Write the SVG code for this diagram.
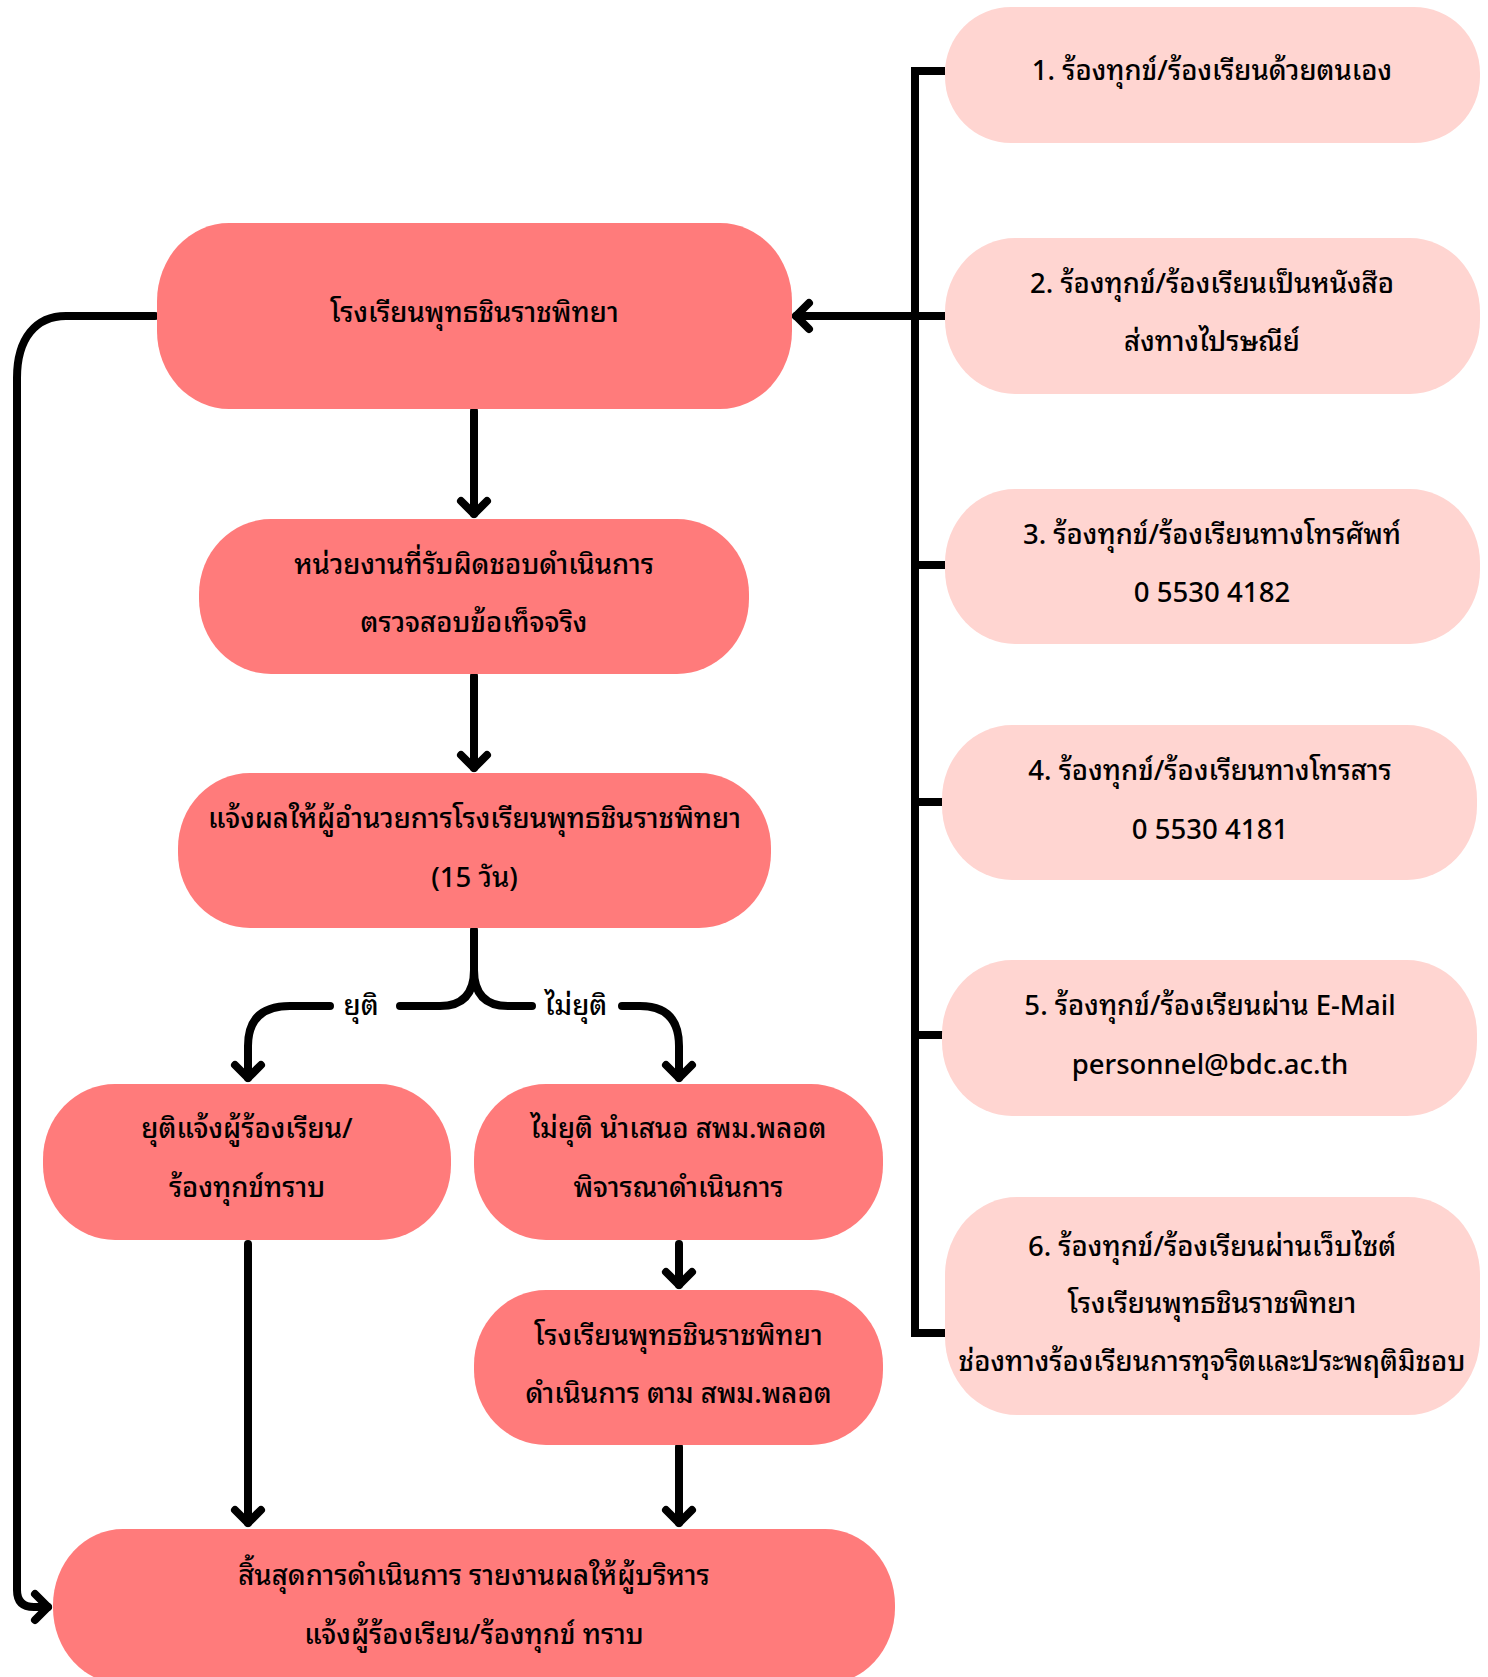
<svg xmlns="http://www.w3.org/2000/svg" width="1488" height="1677" viewBox="0 0 1488 1677">
<style>
.main{fill:#ff7b7b}
.side{fill:#ffd5d1}
.t{font-family:"Noto Sans Thai Looped","Noto Sans Thai","Noto Sans","DejaVu Sans",sans-serif;font-size:27.5px;font-weight:500;fill:#000;text-anchor:middle;dominant-baseline:central}
.c{fill:none;stroke:#000;stroke-width:8;stroke-linecap:round;stroke-linejoin:round}
.bar{fill:none;stroke:#000;stroke-width:8;stroke-linecap:butt;stroke-linejoin:miter}
</style>
<defs>
<marker id="ah" viewBox="-20 -20 40 40" refX="0" refY="0" markerWidth="40" markerHeight="40" markerUnits="userSpaceOnUse" orient="auto" overflow="visible">
<path d="M-13,-13 L0,0 L-13,13" fill="none" stroke="#000" stroke-width="8" stroke-linecap="round" stroke-linejoin="round"/>
</marker>
</defs>
<rect width="1488" height="1677" fill="#fff"/>
<g id="connectors">
<path class="bar" d="M945,71 H915 V1333 H945"/>
<path class="bar" d="M915,565 H945 M915,802 H945 M915,1035 H945"/>
<path class="c" d="M945,316 H796" marker-end="url(#ah)"/>
<path class="c" d="M474,411 V514" marker-end="url(#ah)"/>
<path class="c" d="M474,676 V768" marker-end="url(#ah)"/>
<path class="c" d="M474,930 V970 Q474,1006 440,1006 H400"/>
<path class="c" d="M474,970 Q474,1006 508,1006 H532"/>
<path class="c" d="M330,1006 H290 Q248,1006 248,1046 V1078" marker-end="url(#ah)"/>
<path class="c" d="M622,1006 H640 Q679,1006 679,1046 V1078" marker-end="url(#ah)"/>
<path class="c" d="M679,1244 V1285" marker-end="url(#ah)"/>
<path class="c" d="M679,1447 V1523" marker-end="url(#ah)"/>
<path class="c" d="M248,1244 V1523" marker-end="url(#ah)"/>
<path class="c" d="M155,316 H66 C36,316 17,338 17,378 V1590 Q17,1607 34,1607 H48" marker-end="url(#ah)"/>
<text class="t" x="361" y="1003">ยุติ</text>
<text class="t" x="576" y="1003">ไม่ยุติ</text>
</g>
<g id="n-school">
<rect class="main" x="157" y="223" width="635" height="186" rx="72" ry="78"/>
<text class="t" x="474.5" y="310">โรงเรียนพุทธชินราชพิทยา</text>
</g>
<g id="n-unit">
<rect class="main" x="199" y="519" width="550" height="155" rx="72" ry="75"/>
<text class="t" x="474" y="562">หน่วยงานที่รับผิดชอบดำเนินการ</text>
<text class="t" x="474" y="620">ตรวจสอบข้อเท็จจริง</text>
</g>
<g id="n-report">
<rect class="main" x="178" y="773" width="593" height="155" rx="72" ry="75"/>
<text class="t" x="474.5" y="816">แจ้งผลให้ผู้อำนวยการโรงเรียนพุทธชินราชพิทยา</text>
<text class="t" x="474.5" y="875">(15 วัน)</text>
</g>
<g id="n-end-notify">
<rect class="main" x="43" y="1084" width="408" height="156" rx="72" ry="75"/>
<text class="t" x="247" y="1126">ยุติแจ้งผู้ร้องเรียน/</text>
<text class="t" x="247" y="1185">ร้องทุกข์ทราบ</text>
</g>
<g id="n-propose">
<rect class="main" x="474" y="1084" width="409" height="156" rx="72" ry="75"/>
<text class="t" x="678.5" y="1126">ไม่ยุติ นำเสนอ สพม.พลอต</text>
<text class="t" x="678.5" y="1185">พิจารณาดำเนินการ</text>
</g>
<g id="n-act">
<rect class="main" x="474" y="1290" width="409" height="155" rx="72" ry="75"/>
<text class="t" x="678.5" y="1333">โรงเรียนพุทธชินราชพิทยา</text>
<text class="t" x="678.5" y="1391">ดำเนินการ ตาม สพม.พลอต</text>
</g>
<g id="n-final">
<rect class="main" x="53" y="1529" width="842" height="155" rx="70" ry="76"/>
<text class="t" x="474" y="1573">สิ้นสุดการดำเนินการ รายงานผลให้ผู้บริหาร</text>
<text class="t" x="474" y="1632">แจ้งผู้ร้องเรียน/ร้องทุกข์ ทราบ</text>
</g>
<g id="s1">
<rect class="side" x="945" y="7" width="535" height="136" rx="66" ry="66"/>
<text class="t" x="1212" y="68">1. ร้องทุกข์/ร้องเรียนด้วยตนเอง</text>
</g>
<g id="s2">
<rect class="side" x="945" y="238" width="535" height="156" rx="70" ry="74"/>
<text class="t" x="1212" y="281">2. ร้องทุกข์/ร้องเรียนเป็นหนังสือ</text>
<text class="t" x="1212" y="339">ส่งทางไปรษณีย์</text>
</g>
<g id="s3">
<rect class="side" x="945" y="489" width="535" height="155" rx="70" ry="74"/>
<text class="t" x="1212" y="532">3. ร้องทุกข์/ร้องเรียนทางโทรศัพท์</text>
<text class="t" x="1212" y="590">0 5530 4182</text>
</g>
<g id="s4">
<rect class="side" x="942" y="725" width="535" height="155" rx="70" ry="74"/>
<text class="t" x="1210" y="768">4. ร้องทุกข์/ร้องเรียนทางโทรสาร</text>
<text class="t" x="1210" y="827">0 5530 4181</text>
</g>
<g id="s5">
<rect class="side" x="942" y="960" width="535" height="156" rx="70" ry="74"/>
<text class="t" x="1210" y="1003">5. ร้องทุกข์/ร้องเรียนผ่าน E-Mail</text>
<text class="t" x="1210" y="1062">personnel@bdc.ac.th</text>
</g>
<g id="s6">
<rect class="side" x="945" y="1197" width="535" height="218" rx="72" ry="78"/>
<text class="t" x="1212" y="1244">6. ร้องทุกข์/ร้องเรียนผ่านเว็บไซต์</text>
<text class="t" x="1212" y="1301">โรงเรียนพุทธชินราชพิทยา</text>
<text class="t" x="1212" y="1359">ช่องทางร้องเรียนการทุจริตและประพฤติมิชอบ</text>
</g>
</svg>
